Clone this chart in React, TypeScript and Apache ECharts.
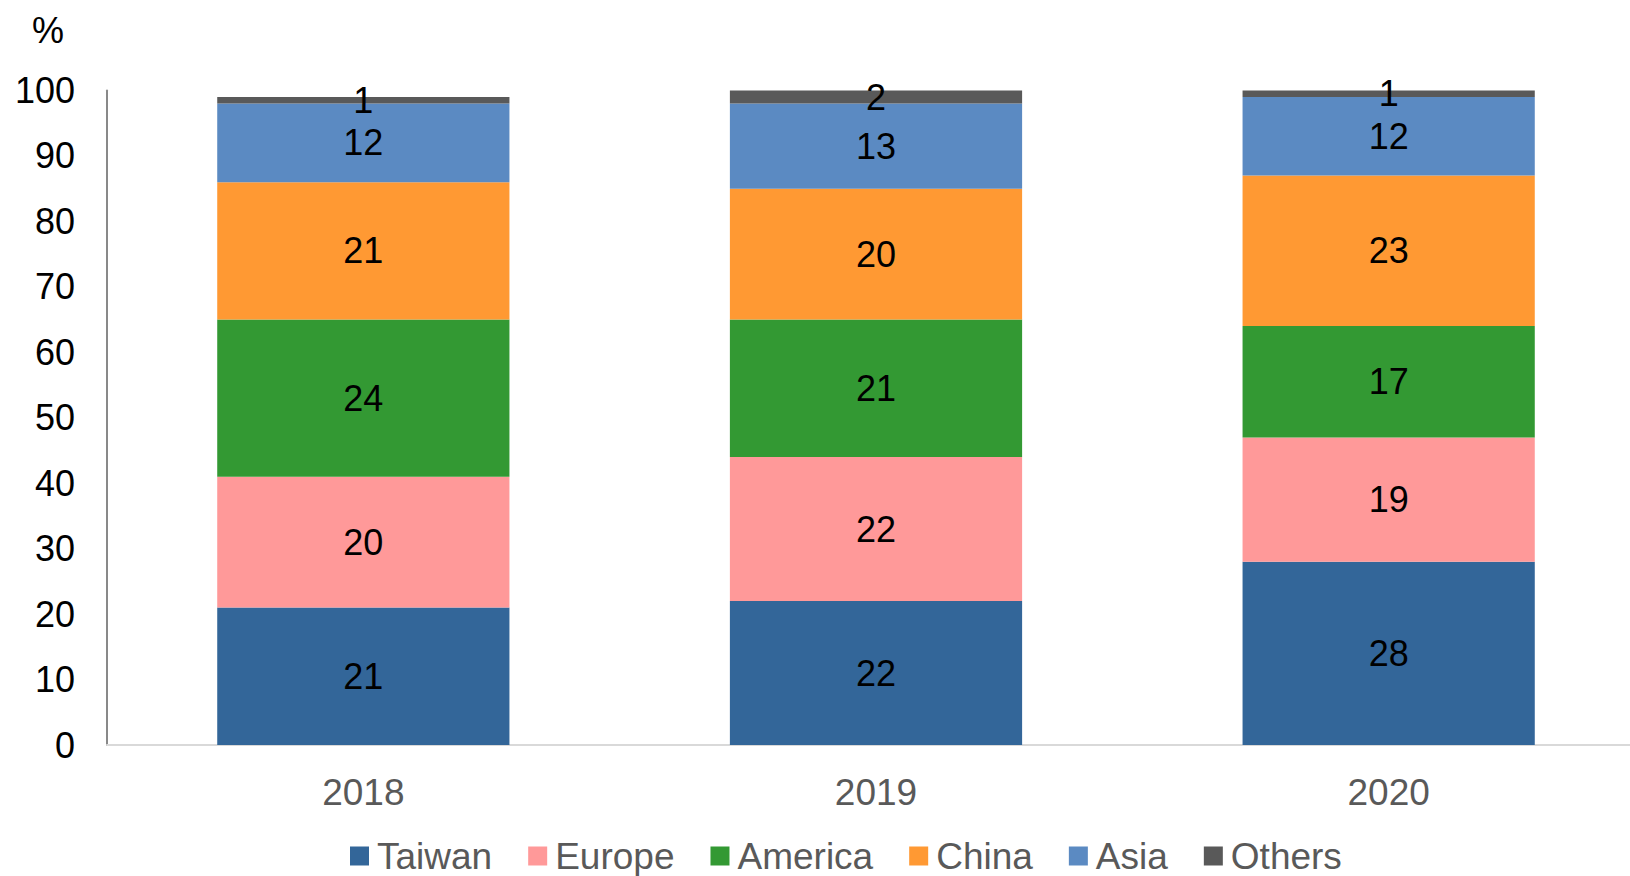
import React, { useEffect, useRef } from "react";
import * as echarts from "echarts";

const categories = ["2018", "2019", "2020"];
const seriesNames = ["Taiwan", "Europe", "America", "China", "Asia", "Others"];
const taiwan = [21, 22, 28];
const europe = [20, 22, 19];
const america = [24, 21, 17];
const china = [21, 20, 23];
const asia = [12, 13, 12];
const others = [1, 2, 1];
const colors = ["#336699", "#FF9999", "#339933", "#FF9933", "#5B8AC2", "#595959"];
const FONT = "'Liberation Sans', Arial, sans-serif";

export default function App() {
  const ref = useRef<HTMLDivElement>(null);
  useEffect(() => {
    if (!ref.current) return;
    const chart = echarts.init(ref.current, null, { renderer: "svg" });
    const values = [taiwan, europe, america, china, asia, others];
    chart.setOption({
      animation: false,
      textStyle: { fontFamily: FONT },
      grid: { left: 107, right: 0, top: 90.5, bottom: 131, containLabel: false },
      legend: {
        data: seriesNames,
        top: 837,
        left: 350,
        padding: 0,
        icon: "rect",
        itemWidth: 19,
        itemHeight: 19,
        itemGap: 36,
        textStyle: {
          fontSize: 37,
          lineHeight: 38,
          color: "#595959",
          fontFamily: FONT,
          padding: [0, 0, 0, 3],
        },
      },
      graphic: [
        {
          type: "text",
          left: 32,
          top: 12,
          style: { text: "%", fontSize: 36, fill: "#000", fontFamily: FONT },
        },
      ],
      xAxis: {
        type: "category",
        data: categories,
        axisLine: { show: true, lineStyle: { color: "#D9D9D9", width: 2 } },
        axisTick: { show: false },
        axisLabel: { fontSize: 37, color: "#595959", margin: 29, fontFamily: FONT },
      },
      yAxis: {
        type: "value",
        min: 0,
        max: 100,
        interval: 10,
        axisLine: { show: true, lineStyle: { color: "#898989", width: 2 } },
        axisTick: { show: false },
        splitLine: { show: false },
        axisLabel: { fontSize: 36, color: "#000", margin: 32, fontFamily: FONT },
      },
      series: seriesNames.map((name, i) => ({
        name,
        type: "bar",
        stack: "total",
        barWidth: "57%",
        data: values[i],
        itemStyle: { color: colors[i] },
        label: {
          show: true,
          position: "inside",
          color: "#000",
          fontSize: 36,
          fontFamily: FONT,
        },
      })),
    });
    return () => chart.dispose();
  }, []);
  return (
    <div style={{ position: "absolute", left: 0, top: 0, width: 1630, height: 876, overflow: "hidden" }}>
      <div ref={ref} style={{ position: "absolute", left: 0, top: 0, width: 1645, height: 876 }} />
    </div>
  );
}
